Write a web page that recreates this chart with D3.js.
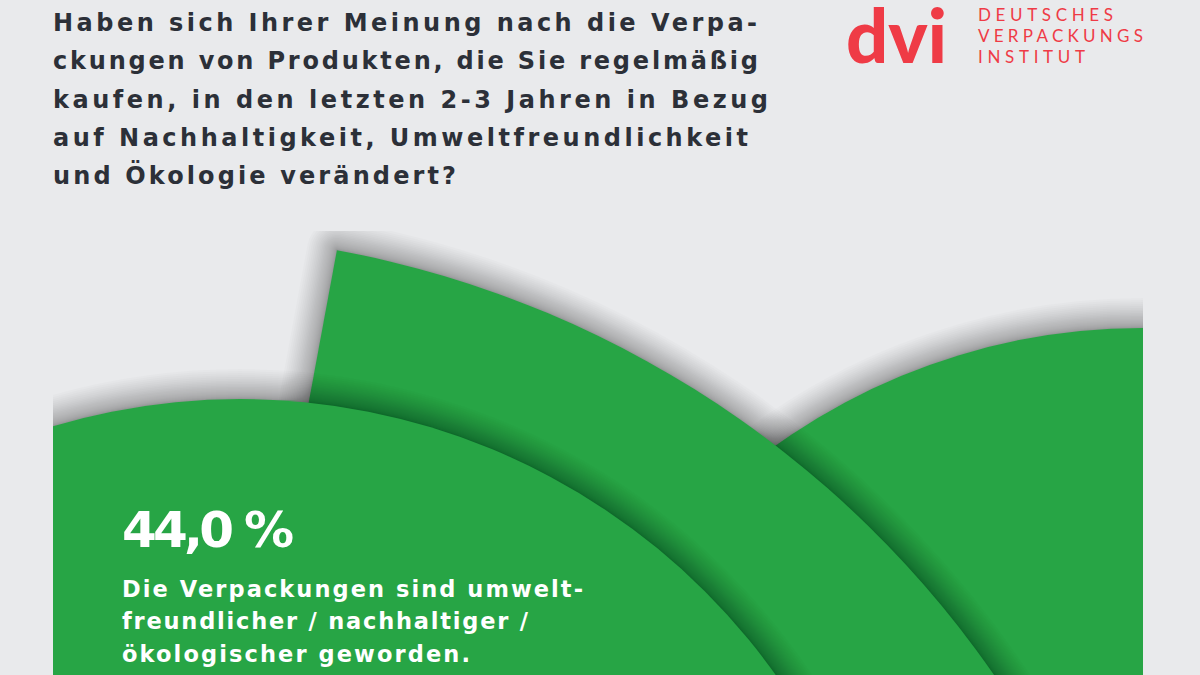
<!DOCTYPE html>
<html>
<head>
<meta charset="utf-8">
<script src="https://cdn.jsdelivr.net/npm/d3@7"></script>
<style>
  html, body { margin: 0; padding: 0; background: #e9eaec; }
  svg { display: block; }
</style>
</head>
<body>
<svg id="chart" width="1200" height="675"></svg>
<script>
// ---------------- data ----------------
const titleLines = [
  "Haben sich Ihrer Meinung nach die Verpa-",
  "ckungen von Produkten, die Sie regelmäßig",
  "kaufen, in den letzten 2-3 Jahren in Bezug",
  "auf Nachhaltigkeit, Umweltfreundlichkeit",
  "und Ökologie verändert?"
];
const brandMark = "dvi";
const brandLines = ["DEUTSCHES", "VERPACKUNGS", "INSTITUT"];
const segments = ["umweltfreundlicher geworden", "weitere Antwort", "weitere Antwort"];
const shareValues = [44.0];
const shareLabelLines = [
  "Die Verpackungen sind umwelt-",
  "freundlicher / nachhaltiger /",
  "ökologischer geworden."
];

// ---------------- layout / style (not data) ----------------
const W = 1200, H = 675;
const plot = { left: 53, right: 1143, top: 231, bottom: 675 };
const colors = { bg: "#e9eaec", green: "#27a545", title: "#2c3038", brand: "#ef3b46", white: "#ffffff" };
// wedge geometry in plot coordinates (drawn back to front)
const wedgeLayout = [
  { seg: 2, cx: 1089, cy: 727, r: 630, a0: -Math.PI, a1: Math.PI },
  { seg: 1, cx: 97,   cy: 1029, r: 1027, a0: 0.183, a1: 1.9 },
  { seg: 0, cx: 187,  cy: 826, r: 658, a0: -Math.PI, a1: Math.PI }
];
// soft shadow built from stacked translucent outlines
const shadowSteps = d3.range(1, 25);      // 24 layers
const shadowReach = 30;                   // px outside the edge
const shadowAlpha = 1 - Math.pow(0.7, 1 / shadowSteps.length);

const svg = d3.select("#chart");
svg.append("rect").attr("width", W).attr("height", H).attr("fill", colors.bg);

const defs = svg.append("defs");
defs.append("clipPath").attr("id", "plotClip")
  .append("rect")
  .attr("x", plot.left).attr("y", plot.top)
  .attr("width", plot.right - plot.left).attr("height", plot.bottom - plot.top + 10);

// scales mapping plot coordinates to the page
const x = d3.scaleLinear().domain([0, plot.right - plot.left]).range([plot.left, plot.right]);
const y = d3.scaleLinear().domain([0, plot.bottom - plot.top]).range([plot.top, plot.bottom]);
const reach = d3.scalePow().exponent(1.7).domain([0, shadowSteps.length]).range([0.5, shadowReach]);

const arc = d3.arc().innerRadius(0).outerRadius(d => d.r).startAngle(d => d.a0).endAngle(d => d.a1);

const g = svg.append("g").attr("clip-path", "url(#plotClip)");
const wedges = g.selectAll("g.wedge")
  .data(wedgeLayout)
  .join("g")
  .attr("class", "wedge")
  .attr("transform", d => `translate(${x(d.cx)},${y(d.cy)})`);

wedges.each(function (d) {
  const wg = d3.select(this);
  const path = arc(d);
  wg.selectAll("path.sh")
    .data(shadowSteps)
    .join("path")
    .attr("class", "sh")
    .attr("d", path)
    .attr("fill", "none")
    .attr("stroke", "#000")
    .attr("stroke-opacity", shadowAlpha)
    .attr("stroke-linejoin", "round")
    .attr("stroke-width", k => 2 * reach(k));
  wg.append("path")
    .attr("data-segment", segments[d.seg])
    .attr("d", path)
    .attr("fill", colors.green);
});

// ---------------- text ----------------
function fitWidth(sel, target) {
  sel.each(function () {
    const n = this.getNumberOfChars();
    const w = this.getComputedTextLength();
    if (n > 1) d3.select(this).attr("letter-spacing", ((target - w) / (n - 1)).toFixed(3));
  });
}

const mainFont = "'DejaVu Sans', 'Open Sans', sans-serif";

// title
const titleWidths = [704, 705, 715, 695, 403];
svg.append("g").selectAll("text")
  .data(titleLines)
  .join("text")
  .attr("x", 53)
  .attr("y", (d, i) => 31 + i * 38.3)
  .attr("font-family", mainFont)
  .attr("font-weight", 700)
  .attr("font-size", 24)
  .attr("fill", colors.title)
  .text(d => d)
  .each(function (d, i) { fitWidth(d3.select(this), titleWidths[i]); });

// brand
const brand = svg.append("g");
brand.append("text")
  .attr("x", 846).attr("y", 62.5)
  .attr("font-family", "Lato, sans-serif")
  .attr("font-weight", 900)
  .attr("font-size", 74)
  .attr("fill", colors.brand)
  .text(brandMark);
const brandWidths = [135, 165, 107];
brand.selectAll("text.bl")
  .data(brandLines)
  .join("text")
  .attr("class", "bl")
  .attr("x", 978)
  .attr("y", (d, i) => 20.7 + i * 21)
  .attr("font-family", "Lato, sans-serif")
  .attr("font-weight", 400)
  .attr("font-size", 17)
  .attr("fill", colors.brand)
  .text(d => d)
  .each(function (d, i) { fitWidth(d3.select(this), brandWidths[i]); });

// value label
const de = d3.formatLocale({ decimal: ",", thousands: ".", grouping: [3], currency: ["", " €"] });
const fmt = de.format(".1f");
const labels = svg.append("g");
labels.append("text")
  .attr("x", 122).attr("y", 547)
  .attr("font-family", mainFont)
  .attr("font-weight", 700)
  .attr("font-size", 50)
  .attr("fill", colors.white)
  .text(fmt(shareValues[0]) + " %")
  .call(fitWidth, 172);
const labelWidths = [461, 406, 348];
labels.selectAll("text.sl")
  .data(shareLabelLines)
  .join("text")
  .attr("class", "sl")
  .attr("x", 122)
  .attr("y", (d, i) => 596.7 + i * 32.5)
  .attr("font-family", mainFont)
  .attr("font-weight", 700)
  .attr("font-size", 22.5)
  .attr("fill", colors.white)
  .text(d => d)
  .each(function (d, i) { fitWidth(d3.select(this), labelWidths[i]); });
</script>
</body>
</html>
